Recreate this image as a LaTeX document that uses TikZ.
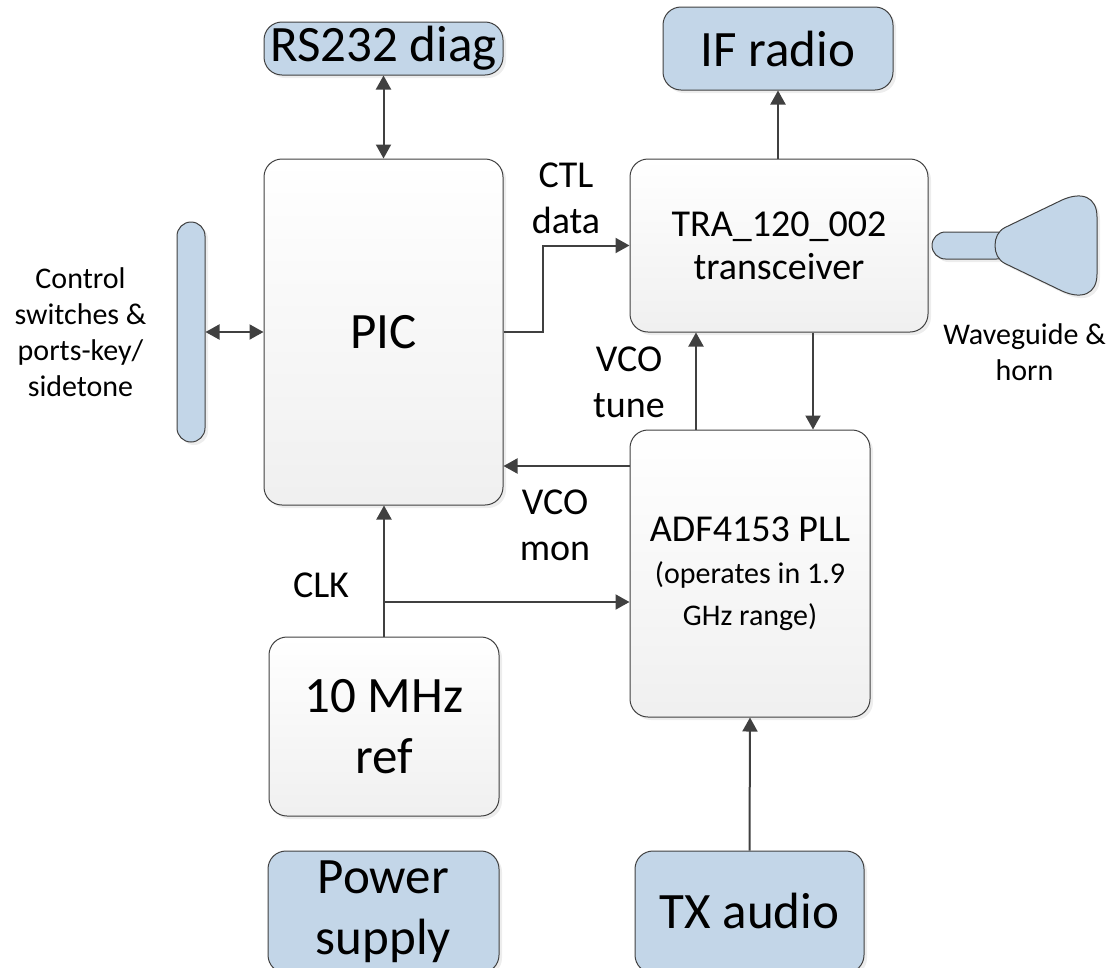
\documentclass[tikz,border=0pt]{standalone}
\usepackage{fontspec}
\setmainfont{Carlito}
\usetikzlibrary{arrows.meta,shadows}
\definecolor{boxblue}{RGB}{195,214,232}
\definecolor{linegray}{RGB}{64,64,64}
\tikzset{
	>={Triangle[length=14pt,width=15pt]},
	sized/.style 2 args={minimum width=#1 pt,minimum height=#2 pt},
	plainbox/.style={draw=linegray,line width=1pt,rounded corners=18pt,inner sep=0pt,align=center,
		drop shadow={shadow xshift=3pt,shadow yshift=-3pt,fill=black!14}},
	grayblock/.style={plainbox,top color=white,bottom color=black!6},
	blueblock/.style={plainbox,fill=boxblue},
	wire/.style={draw=linegray,line width=2pt},
	bigtext/.style={font=\fontsize{51}{61}\selectfont},
	midtext/.style={font=\fontsize{38}{46}\selectfont},
	smalltext/.style={font=\fontsize{30}{36}\selectfont},
}
\begin{document}
\begin{tikzpicture}[x=1pt,y=-1pt]
			\useasboundingbox (0,0) rectangle (1110,967);
			% boxes
			\node[blueblock,bigtext,sized={239}{53}] (rsdiag) at (383.5,48.5) {\raisebox{-2pt}{RS232 diag}};
			\node[blueblock,bigtext,sized={230}{83}] (ifradio) at (778,48.5) {IF radio};
			\node[grayblock,bigtext,sized={239}{346}] (pic) at (383.5,332) {PIC};
			\node[grayblock,font=\fontsize{38}{43}\selectfont,sized={298}{173}] (tra) at (779,245.5) {TRA\_120\_002\\transceiver};
			\node[grayblock,font=\fontsize{30}{42}\selectfont,sized={240}{287}] (adf) at (750,573.5) {{\fontsize{38}{40}\selectfont ADF4153 PLL}\\(operates in 1.9\\GHz range)};
			\node[grayblock,bigtext,sized={230}{179}] (ref) at (384,726.5) {10 MHz\\ref};
			\node[blueblock,bigtext,sized={231}{122}] (power) at (383.5,912) {Power\\supply};
			\node[blueblock,bigtext,sized={229}{122}] (txaudio) at (749.5,912) {\raisebox{3pt}{TX audio}};
			\node[blueblock,rounded corners=14pt,sized={28}{220}] (ctlbar) at (191,332) {};
			% waveguide and horn
			\node[blueblock,rounded corners=13.5pt,sized={78}{27}] (guide) at (971,245.5) {};
			\draw[draw=linegray,line width=1pt,fill=boxblue,
				drop shadow={shadow xshift=3pt,shadow yshift=-3pt,fill=black!14}]
				(1005,227.5) .. controls (998,231) and (995,238) .. (995,245.5)
				.. controls (995,253) and (998,260) .. (1005,263.5) -- (1062,291)
				.. controls (1082,300) and (1097,294) .. (1097,274) -- (1097,217)
				.. controls (1097,197) and (1082,191) .. (1062,200) -- cycle;
			% labels
			\node[midtext,align=center] (ctllabel) at (566,198.5) {CTL\\data};
			\node[midtext,align=center] (tunelabel) at (629,382) {VCO\\tune};
			\node[midtext,align=center] (monlabel) at (555,525) {VCO\\mon};
			\node[midtext] (clklabel) at (321,585) {CLK};
			\node[smalltext,align=center] (ctrllabel) at (80.5,332) {Control\\switches \&\\ports-key/\\sidetone};
			\node[smalltext,align=center] (hornlabel) at (1024.5,352) {Waveguide \&\\horn};
			% connectors
			\coordinate (bend) at (543,332);
			\coordinate (tune) at (696,380);
			\coordinate (down) at (813,380);
			\coordinate (mon) at (570,466);
			\coordinate (clk) at (384,602);
			\draw[wire,<->] (rsdiag.south) -- (pic.north);
			\draw[wire,->] (tra.north -| ifradio.south) -- (ifradio.south);
			\draw[wire,<->] (ctlbar.east) -- (pic.west);
			\draw[wire,->] (pic.east) -- (bend) |- (tra.west);
			\draw[wire,->] (tune |- adf.north) -- (tune |- tra.south);
			\draw[wire,->] (down |- tra.south) -- (down |- adf.north);
			\draw[wire,->] (adf.west |- mon) -- (pic.east |- mon);
			\draw[wire,->] (ref.north) -- (clk |- pic.south);
			\draw[wire,->] (clk) -- (adf.west |- clk);
			\draw[wire,->] (txaudio.north) -- (adf.south);
\end{tikzpicture}
\end{document}
